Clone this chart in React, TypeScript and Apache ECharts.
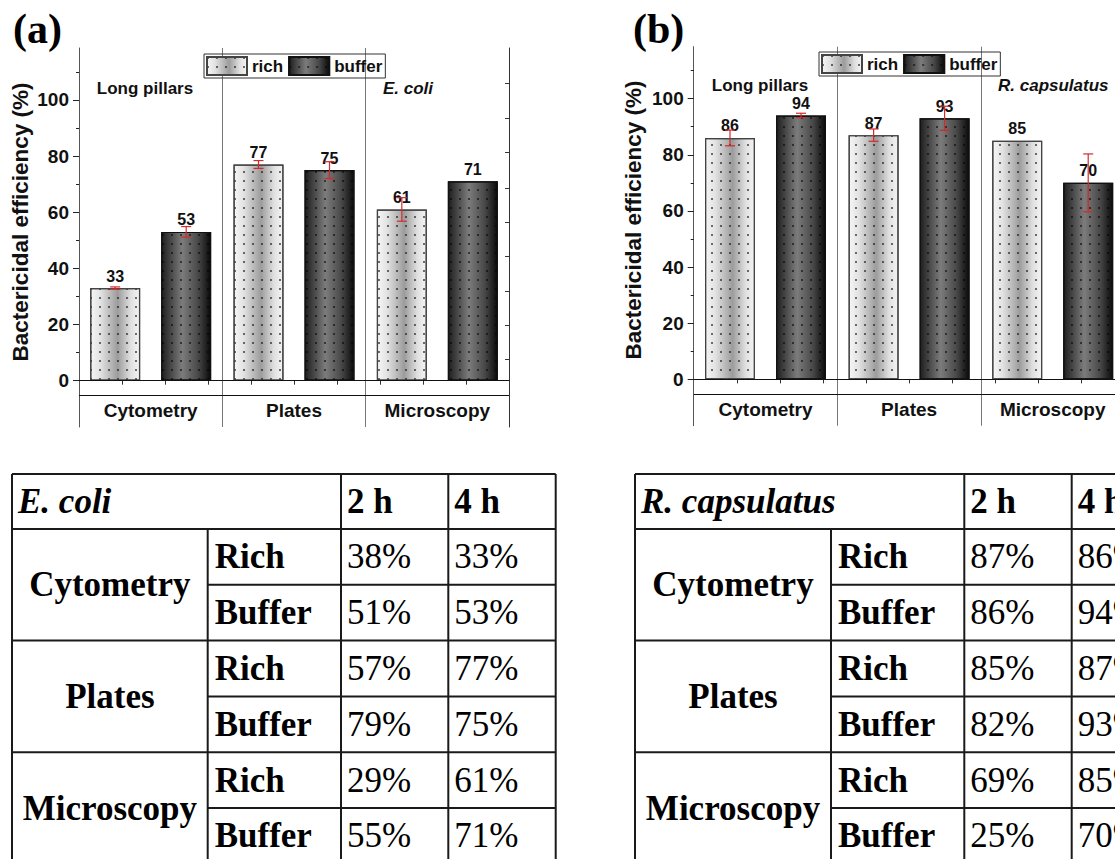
import React, { useEffect, useRef } from "react";
import * as echarts from "echarts";

// ---------- data ----------
const categories = ["Cytometry", "Plates", "Microscopy"];
const seriesNames = ["rich", "buffer"];
const yTicks = [0, 20, 40, 60, 80, 100];
const yMinorTicks = [10, 30, 50, 70, 90, 110];

// panel (a) E. coli, 4 h
const ecoliRich = [33, 77, 61];
const ecoliBuffer = [53, 75, 71];
const ecoliRichErr = [0.4, 1.4, 4.2];
const ecoliBufferErr = [1.9, 3.0, 0];

// panel (b) R. capsulatus, 4 h
const rcapRich = [86, 87, 85];
const rcapBuffer = [94, 93, 70];
const rcapRichErr = [2.8, 2.2, 0];
const rcapBufferErr = [0.8, 4.3, 10.3];

// tables
const tableGroups = ["Cytometry", "Plates", "Microscopy"];
const tableMedia = ["Rich", "Buffer"];
const tableHeaders = ["2 h", "4 h"];
const ecoli2h = [38, 51, 57, 79, 29, 55];
const ecoli4h = [33, 53, 77, 75, 61, 71];
const rcap2h = [87, 86, 85, 82, 69, 25];
const rcap4h = [86, 94, 87, 93, 85, 70];

// ---------- styles ----------
const SANS = '"Liberation Sans", Arial, sans-serif';
const SERIF = '"Liberation Serif", "Times New Roman", serif';
const BAR_W = 50;
const BAR_GAP = 0.42;
const BAR_OFFSET = (BAR_W + BAR_W * BAR_GAP) / 2;
const Y_MIN = -16.5;
const Y_MAX = 118.5;

const richColor = {
  type: "linear", x: 0, y: 0, x2: 1, y2: 0,
  colorStops: [
    { offset: 0, color: "#f6f6f6" },
    { offset: 0.2, color: "#e2e2e2" },
    { offset: 0.55, color: "#9c9c9c" },
    { offset: 0.82, color: "#e0e0e0" },
    { offset: 1, color: "#f4f4f4" },
  ],
};
const bufferColor = {
  type: "linear", x: 0, y: 0, x2: 1, y2: 0,
  colorStops: [
    { offset: 0, color: "#1e1e1e" },
    { offset: 0.42, color: "#7c7c7c" },
    { offset: 0.75, color: "#474747" },
    { offset: 1, color: "#0a0a0a" },
  ],
};
const dotDecal = {
  symbol: "rect",
  symbolSize: 1,
  color: "rgba(0,0,0,0.55)",
  dashArrayX: [1.4, 7],
  dashArrayY: [1.4, 7],
  rotation: 0,
};

function barSeries(name, data, color, border, xi, yi, withLines) {
  const s: any = {
    name,
    type: "bar",
    xAxisIndex: xi,
    yAxisIndex: yi,
    data,
    barWidth: BAR_W,
    barGap: BAR_GAP * 100 + "%",
    itemStyle: { color, borderColor: border, borderWidth: 1.2, decal: dotDecal },
    label: {
      show: true,
      position: "top",
      distance: 4,
      fontSize: 16,
      fontWeight: "bold",
      fontFamily: SANS,
      color: "#111",
    },
  };
  if (withLines) {
    s.markLine = {
      silent: true,
      symbol: "none",
      label: { show: false },
      lineStyle: { color: "#111", width: 1, type: "solid" },
      data: [{ yAxis: 0 }, { yAxis: -5.2 }],
    };
  }
  return s;
}

function errSeries(rich, richErr, buffer, bufferErr, xi, yi) {
  const data = [
    ...rich.map((v, i) => [i, v, richErr[i], 0]),
    ...buffer.map((v, i) => [i, v, bufferErr[i], 1]),
  ];
  return {
    type: "custom",
    xAxisIndex: xi,
    yAxisIndex: yi,
    z: 5,
    silent: true,
    data,
    encode: { x: 0, y: 1 },
    renderItem: (params, api) => {
      const cat = api.value(0);
      const v = api.value(1);
      const e = api.value(2);
      const s = api.value(3);
      if (!e) return { type: "group", children: [] };
      const off = (s === 0 ? -1 : 1) * BAR_OFFSET;
      const cx = api.coord([cat, v])[0] + off;
      const yt = api.coord([cat, v + e])[1];
      const yb = api.coord([cat, v - e])[1];
      const st = { stroke: "#d42a2a", lineWidth: 1.2 };
      return {
        type: "group",
        children: [
          { type: "line", shape: { x1: cx, y1: yt, x2: cx, y2: yb }, style: st },
          { type: "line", shape: { x1: cx - 5, y1: yt, x2: cx + 5, y2: yt }, style: st },
          { type: "line", shape: { x1: cx - 5, y1: yb, x2: cx + 5, y2: yb }, style: st },
        ],
      };
    },
  };
}

function axesFor(gi, rightTicks) {
  const x = [
    {
      gridIndex: gi,
      type: "category",
      data: categories,
      position: "bottom",
      axisLine: { show: true, lineStyle: { color: "#111", width: 1 } },
      axisTick: { show: false },
      splitLine: { show: true, lineStyle: { color: "#777", width: 1 } },
      axisLabel: {
        inside: true,
        margin: 7,
        fontSize: 19,
        fontWeight: "bold",
        fontFamily: SANS,
        color: "#111",
      },
    },
    {
      gridIndex: gi,
      type: "value",
      position: "top",
      min: 0,
      max: 100,
      axisLine: { show: true, lineStyle: { color: "#333" } },
      axisTick: { show: true, inside: true, length: 4, customValues: [10, 20, 30, 40, 50, 60, 70, 80, 90], lineStyle: { color: "#333" } },
      axisLabel: { show: false },
      splitLine: { show: false },
    },
  ];
  const y = [
    {
      gridIndex: gi,
      type: "value",
      position: "left",
      min: Y_MIN,
      max: Y_MAX,
      axisLine: { show: true, lineStyle: { color: "#555" } },
      axisTick: { show: true, length: 6, customValues: yTicks, lineStyle: { color: "#222" } },
      axisLabel: {
        customValues: yTicks,
        fontSize: 19,
        fontWeight: "bold",
        fontFamily: SANS,
        color: "#111",
        margin: 10,
      },
      splitLine: { show: false },
    },
    {
      gridIndex: gi,
      type: "value",
      position: "left",
      min: Y_MIN,
      max: Y_MAX,
      axisLine: { show: false },
      axisTick: { show: true, length: 3, customValues: yMinorTicks, lineStyle: { color: "#222" } },
      axisLabel: { show: false },
      splitLine: { show: false },
    },
    {
      gridIndex: gi,
      type: "value",
      position: "right",
      min: Y_MIN,
      max: Y_MAX,
      axisLine: { show: true, lineStyle: { color: "#333" } },
      axisTick: { show: rightTicks.length > 0, inside: true, length: 4, customValues: rightTicks, lineStyle: { color: "#333" } },
      axisLabel: { show: false },
      splitLine: { show: false },
    },
  ];
  return { x, y };
}

function tableGraphics(x0, cols, xRight, title, v2, v4) {
  const top = 474;
  const headBottom = 529;
  const rowH = 55.8;
  const nRows = tableGroups.length * tableMedia.length;
  const bottom = headBottom + rowH * nRows;
  const ln = { stroke: "#1a1a1a", lineWidth: 2 };
  const els: any[] = [];
  const hline = (xa, xb, y) => els.push({ type: "line", shape: { x1: xa, y1: y, x2: xb, y2: y }, style: ln });
  const vline = (x, ya, yb) => els.push({ type: "line", shape: { x1: x, y1: ya, x2: x, y2: yb }, style: ln });
  hline(x0, xRight, top);
  hline(x0, xRight, headBottom);
  for (let r = 1; r < nRows; r++) {
    const y = headBottom + rowH * r;
    if (r % 2 === 0) hline(x0, xRight, y);
    else hline(cols[0], xRight, y);
  }
  hline(x0, xRight, bottom);
  vline(x0, top, bottom);
  vline(cols[0], headBottom, bottom);
  vline(cols[1], top, bottom);
  vline(cols[2], top, bottom);
  vline(xRight, top, bottom);
  const txt = (text, x, y, opts) =>
    els.push({
      type: "text",
      x,
      y,
      style: {
        text,
        fontSize: 35,
        fontFamily: SERIF,
        fill: "#000",
        align: "left",
        verticalAlign: "middle",
        ...opts,
      },
    });
  const hc = (top + headBottom) / 2;
  txt(title, x0 + 6, hc, { fontWeight: "bold", fontStyle: "italic" });
  txt(tableHeaders[0], cols[1] + 6, hc, { fontWeight: "bold" });
  txt(tableHeaders[1], cols[2] + 6, hc, { fontWeight: "bold" });
  tableGroups.forEach((g, gi) => {
    const gy = headBottom + rowH * (gi * 2 + 1);
    txt(g, (x0 + cols[0]) / 2, gy, { fontWeight: "bold", align: "center" });
    tableMedia.forEach((m, mi) => {
      const idx = gi * 2 + mi;
      const ry = headBottom + rowH * idx + rowH / 2;
      txt(m, cols[0] + 7, ry, { fontWeight: "bold" });
      txt(v2[idx] + "%", cols[1] + 6, ry, {});
      txt(v4[idx] + "%", cols[2] + 6, ry, {});
    });
  });
  return els;
}

function sansText(text, x, y, opts) {
  return {
    type: "text",
    x,
    y,
    z: 10,
    style: {
      text,
      fontSize: 17,
      fontWeight: "bold",
      fontFamily: SANS,
      fill: "#111",
      align: "left",
      verticalAlign: "middle",
      ...opts,
    },
  };
}

export default function App() {
  const ref = useRef<HTMLDivElement>(null);
  useEffect(() => {
    if (!ref.current) return;
    const chart = echarts.init(ref.current, null, { renderer: "svg" });
    const a = axesFor(0, [7.5, 19.6, 32, 44.2, 56.6, 68.6, 81.2, 93.6, 106]);
    const b = axesFor(1, []);
    const legendBase = {
      data: seriesNames,
      orient: "horizontal",
      icon: "rect",
      itemWidth: 40,
      itemHeight: 18,
      itemGap: 5,
      padding: [2, 3, 2, 2],
      borderColor: "#333",
      borderWidth: 1,
      textStyle: { fontSize: 17, fontWeight: "bold", fontFamily: SANS, color: "#111" },
      selectedMode: false,
    };
    const option: any = {
      animation: false,
      backgroundColor: "#fff",
      grid: [
        { left: 79, top: 48, width: 430, height: 379, containLabel: false },
        { left: 693.7, top: 46.7, width: 430.8, height: 379, containLabel: false },
      ],
      legend: [
        { ...legendBase, left: 204, top: 54 },
        { ...legendBase, left: 819, top: 52 },
      ],
      xAxis: [...a.x, ...b.x],
      yAxis: [...a.y, ...b.y],
      series: [
        barSeries("rich", ecoliRich, richColor, "#444", 0, 0, true),
        barSeries("buffer", ecoliBuffer, bufferColor, "#111", 0, 0, false),
        errSeries(ecoliRich, ecoliRichErr, ecoliBuffer, ecoliBufferErr, 0, 0),
        barSeries("rich", rcapRich, richColor, "#444", 2, 3, true),
        barSeries("buffer", rcapBuffer, bufferColor, "#111", 2, 3, false),
        errSeries(rcapRich, rcapRichErr, rcapBuffer, rcapBufferErr, 2, 3),
      ],
      graphic: [
        {
          type: "text", x: 13, y: 29,
          style: { text: "(a)", fontSize: 42, fontWeight: "bold", fontFamily: SERIF, fill: "#000", align: "left", verticalAlign: "middle" },
        },
        {
          type: "text", x: 633, y: 29,
          style: { text: "(b)", fontSize: 42, fontWeight: "bold", fontFamily: SERIF, fill: "#000", align: "left", verticalAlign: "middle" },
        },
        {
          type: "text", x: 20, y: 222, rotation: Math.PI / 2,
          style: { text: "Bactericidal efficiency (%)", fontSize: 22.5, fontWeight: "bold", fontFamily: SANS, fill: "#111", align: "center", verticalAlign: "middle" },
        },
        {
          type: "text", x: 633, y: 220, rotation: Math.PI / 2,
          style: { text: "Bactericidal efficiency (%)", fontSize: 22.5, fontWeight: "bold", fontFamily: SANS, fill: "#111", align: "center", verticalAlign: "middle" },
        },
        sansText("Long pillars", 145, 88, { align: "center" }),
        sansText("E. coli", 383, 88, { fontStyle: "italic" }),
        sansText("Long pillars", 760, 85, { align: "center" }),
        sansText("R. capsulatus", 998, 85, { fontStyle: "italic" }),
        ...tableGraphics(12, [207.7, 341, 448.3], 555.7, "E. coli", ecoli2h, ecoli4h),
        ...tableGraphics(635, [831, 964.3, 1071.7], 1179, "R. capsulatus", rcap2h, rcap4h),
      ],
    };
    chart.setOption(option);
    return () => chart.dispose();
  }, []);
  return (
    <div style={{ position: "fixed", left: 0, top: 0, width: 1115, height: 859, overflow: "hidden", background: "#fff" }}>
      <div ref={ref} style={{ width: 1140, height: 859 }} />
    </div>
  );
}
